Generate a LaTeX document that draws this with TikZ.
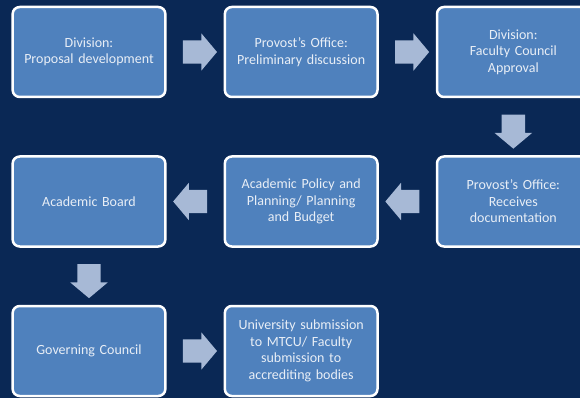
\documentclass[tikz,border=0pt]{standalone}
\usepackage{fontspec}
\setmainfont{Carlito}
\usetikzlibrary{positioning,calc}
\usetikzlibrary{shapes.arrows}

\definecolor{navy}{RGB}{10,40,85}
\definecolor{boxblue}{RGB}{79,129,189}
\definecolor{arrowgrey}{RGB}{167,185,214}
\definecolor{textwhite}{RGB}{232,238,246}

\begin{document}
\begin{tikzpicture}[x = 1pt, y = -1pt, node distance = 57pt]
\tikzstyle{stepbox}=[
  draw = white,
  line width = 2.5pt,
  rounded corners = 7pt,
  fill = boxblue,
  text = textwhite,
  minimum width = 152pt,
  minimum height = 90pt,
  text width = 146pt,
  align = center,
  font = \fontsize{14}{16.5}\selectfont
]
\tikzstyle{flow}=[
  single arrow,
  fill = arrowgrey,
  inner sep = 11.5pt,
  minimum height = 34pt,
  minimum width = 37pt,
  single arrow head extend = 7pt,
  single arrow tip angle = 100
]

\useasboundingbox (0,0) rectangle (580,398);
\fill[navy] (0,0) rectangle (580,398);

\node[stepbox] (B1) at (89,52) {Division:\\Proposal development};
\node[stepbox] (B2) [right = of B1] {Provost’s Office:\\Preliminary discussion};
\node[stepbox] (B3) [right = of B2] {Division:\\Faculty Council\\Approval};
\node[stepbox] (B6) [below = of B3] {Provost’s Office:\\Receives\\documentation};
\node[stepbox] (B5) [left = of B6] {Academic Policy and\\Planning/ Planning\\and Budget};
\node[stepbox] (B4) [left = of B5] {Academic Board};
\node[stepbox] (B7) [below = of B4] {Governing Council};
\node[stepbox] (B8) [right = of B7] {University submission\\to MTCU/ Faculty\\submission to\\accrediting bodies};

% block arrows between the boxes
\node[flow] (A12) at ($(B1.east)!0.5!(B2.west)$) {};
\node[flow] (A23) at ($(B2.east)!0.5!(B3.west)$) {};
\node[flow, shape border rotate = 270] (A36) at ($(B3.south)!0.5!(B6.north)$) {};
\node[flow, shape border rotate = 180] (A65) at ($(B6.west)!0.5!(B5.east)$) {};
\node[flow, shape border rotate = 180] (A54) at ($(B5.west)!0.5!(B4.east)$) {};
\node[flow, shape border rotate = 270] (A47) at ($(B4.south)!0.5!(B7.north)$) {};
\node[flow] (A78) at ($(B7.east)!0.5!(B8.west)$) {};
\end{tikzpicture}
\end{document}
